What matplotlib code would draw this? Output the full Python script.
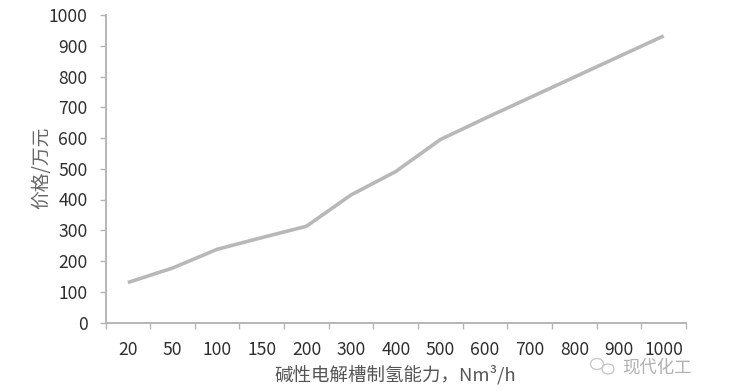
import matplotlib
matplotlib.use("Agg")
import matplotlib.pyplot as plt
from matplotlib.patches import Ellipse

plt.rcParams['font.family'] = ['Noto Sans CJK SC', 'DejaVu Sans']

categories = ['20', '50', '100', '150', '200', '300', '400', '500', '600', '700', '800', '900', '1000']
prices = [130, 177, 238, 276, 313, 415, 491, 595, 664, 731, 798, 865, 932]
y_ticks = list(range(0, 1001, 100))
x_label = '碱性电解槽制氢能力，Nm³/h'
y_label = '价格/万元'
watermark = '现代化工'

W, H = 739, 392
fig = plt.figure(figsize=(W / 100, H / 100), dpi=100)
L, R, T, B = 105.5, 686, 15, 322.5
ax = fig.add_axes([L / W, 1 - B / H, (R - L) / W, (B - T) / H])

xs = list(range(len(categories)))
ax.plot(xs, prices, color='#b8b8b8', lw=2.6, solid_capstyle='butt', solid_joinstyle='round')
ax.set_xlim(-0.5, len(categories) - 0.5)
ax.set_ylim(0, 1000)

ax.set_xticks([i - 0.5 for i in range(len(categories) + 1)], minor=False)
ax.set_xticklabels([])
ax.set_xticks(xs, minor=True)
ax.set_xticklabels(categories, minor=True)
ax.set_yticks(y_ticks)

for s in ('top', 'right'):
    ax.spines[s].set_visible(False)
for s in ('left', 'bottom'):
    ax.spines[s].set_color('#b5b5b5')
    ax.spines[s].set_linewidth(1.4)

ax.tick_params(axis='y', which='major', length=4.5, width=1, color='#b5b5b5',
               labelsize=12.6, labelcolor='#2e2e2e', pad=8.5)
ax.tick_params(axis='x', which='major', length=4.5, width=1, color='#b5b5b5')
ax.tick_params(axis='x', which='minor', length=0, labelsize=12.6, labelcolor='#2e2e2e', pad=13)

fig.text(395 / W, 1 - 375 / H, x_label, ha='center', va='center', fontsize=13.3, color='#555555')
fig.text(42 / W, 1 - 168 / H, y_label, ha='center', va='center', rotation=90, fontsize=13.5, color='#666666')
fig.text(657 / W, 1 - 368 / H, watermark, ha='center', va='center', fontsize=12.5, color='#b0b0b0')

# small chat-bubble watermark icon
for cx, cy, w, h in [(597, 364, 13, 11), (608, 369, 12, 10)]:
    fig.add_artist(Ellipse((cx / W, 1 - cy / H), w / W, h / H, transform=fig.transFigure,
                           facecolor='white', edgecolor='#c4c4c4', linewidth=0.9))

fig.savefig('out.png', dpi=100)
